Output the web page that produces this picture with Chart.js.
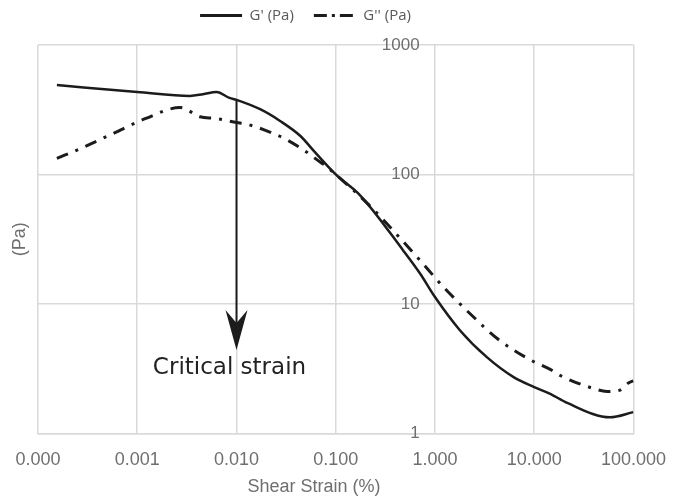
<!DOCTYPE html>
<html>
<head>
<meta charset="utf-8">
<script src="https://cdn.jsdelivr.net/npm/chart.js@4"></script>
<style>
  html, body { margin: 0; padding: 0; background: #fff; }
  #wrap { width: 674px; height: 498px; }
</style>
</head>
<body>
<div id="wrap"><canvas id="myChart"></canvas></div>
<script>
// G' (storage modulus)
const strainG1 = [0.000155, 0.001, 0.0034, 0.0046, 0.0063, 0.0085, 0.01, 0.0173, 0.0275, 0.0438, 0.062, 0.1, 0.176, 0.48, 0.71, 1, 1.79, 3.33, 6.2, 10, 14.5, 21.5, 58, 100];
const gPrime   = [490, 434, 404, 417, 434, 390, 377, 319, 259, 199, 148, 100, 69, 25.8, 17.1, 11.3, 6.24, 3.88, 2.72, 2.28, 2.02, 1.72, 1.33, 1.46];

// G'' (loss modulus)
const strainG2 = [0.000155, 0.000265, 0.00057, 0.00122, 0.0027, 0.0043, 0.0061, 0.01, 0.0139, 0.0235, 0.031, 0.049, 0.063, 0.081, 0.1, 0.222, 0.38, 0.71, 1, 1.24, 2.26, 4.27, 8.65, 14.5, 18.3, 39, 54, 72, 89, 100];
const gDouble  = [133, 158, 207, 271, 329, 279, 271, 252, 240, 207, 188, 152, 132, 115, 100, 57, 36.8, 21.6, 16, 13.3, 8.4, 5.38, 3.78, 3.12, 2.8, 2.23, 2.11, 2.15, 2.45, 2.55];

const xTicks = [0.0001, 0.001, 0.01, 0.1, 1, 10, 100];
const yTicks = [1, 10, 100, 1000];

// annotation
const criticalStrain = 0.01;
const arrowTipValue = 4.4;
const labelValue = 3.2;

const grey = '#6f6f6f';
const gridColor = '#d9d9d9';
const lineColor = '#1c1c1c';

function pts(xs, ys) { return xs.map((x, i) => ({ x: x, y: ys[i] })); }

const annotate = {
  id: 'annotate',
  afterLayout(chart) {
    // legend sits a little left of centre and close to the top edge
    const lg = chart.legend;
    lg.left -= 48; lg.right -= 48;
    lg.top -= 12; lg.bottom -= 12;
  },
  afterDatasetsDraw(chart) {
    const { ctx, scales } = chart;
    const sx = scales.x, sy = scales.y;
    const x = Math.round(sx.getPixelForValue(criticalStrain)) + 0.5;
    const startY = sy.getPixelForValue(gPrime[strainG1.indexOf(criticalStrain)]);
    const tipY = sy.getPixelForValue(arrowTipValue);
    ctx.save();
    ctx.strokeStyle = lineColor;
    ctx.fillStyle = lineColor;
    ctx.lineWidth = 2;
    ctx.beginPath();
    ctx.moveTo(x, startY);
    ctx.lineTo(x, tipY - 20);
    ctx.stroke();
    ctx.beginPath();
    ctx.moveTo(x, tipY);
    ctx.lineTo(x - 11, tipY - 40);
    ctx.lineTo(x, tipY - 27);
    ctx.lineTo(x + 11, tipY - 40);
    ctx.closePath();
    ctx.fill();
    ctx.font = '23px "DejaVu Sans"';
    ctx.textAlign = 'center';
    ctx.textBaseline = 'middle';
    ctx.fillStyle = '#222';
    ctx.fillText('Critical strain', x - 7, sy.getPixelForValue(labelValue));
    ctx.restore();
  },
  afterDraw(chart) {
    const { ctx, chartArea } = chart;
    ctx.save();
    ctx.fillStyle = grey;
    ctx.font = '18px "Liberation Sans"';
    ctx.textAlign = 'center';
    ctx.textBaseline = 'middle';
    ctx.fillText('Shear Strain (%)', 314, 487);
    ctx.translate(20, (chartArea.top + chartArea.bottom) / 2);
    ctx.rotate(-Math.PI / 2);
    ctx.fillText('(Pa)', 0, 0);
    ctx.restore();
  }
};

new Chart(document.getElementById('myChart'), {
  type: 'line',
  data: {
    datasets: [{
      label: "G' (Pa)",
      data: pts(strainG1, gPrime),
      borderColor: lineColor,
      backgroundColor: lineColor,
      borderWidth: 2.5,
      pointRadius: 0,
      pointStyle: 'line',
      cubicInterpolationMode: 'monotone',
      fill: false
    }, {
      label: "G'' (Pa)",
      data: pts(strainG2, gDouble),
      borderColor: lineColor,
      backgroundColor: lineColor,
      borderWidth: 3,
      borderDash: [12, 8, 3, 8],
      pointRadius: 0,
      pointStyle: 'line',
      cubicInterpolationMode: 'monotone',
      fill: false
    }]
  },
  options: {
    responsive: true,
    maintainAspectRatio: false,
    animation: false,
    layout: { padding: { left: 38, right: 5, top: 0, bottom: 19 } },
    plugins: {
      legend: {
        position: 'top',
        labels: {
          usePointStyle: true,
          pointStyleWidth: 42,
          padding: 20,
          color: '#595959',
          font: { family: 'Open Sans', size: 15 },
          generateLabels(chart) {
            const items = Chart.defaults.plugins.legend.labels.generateLabels(chart);
            items.forEach((it, i) => {
              it.lineDash = i === 1 ? [13, 5, 3, 5] : [];
              it.lineWidth = 3;
            });
            return items;
          }
        }
      },
      tooltip: { enabled: false }
    },
    scales: {
      x: {
        type: 'logarithmic',
        min: 0.0001,
        max: 100,
        afterBuildTicks: (s) => { s.ticks = xTicks.map(v => ({ value: v })); },
        ticks: {
          color: grey,
          padding: 8,
          maxRotation: 0,
          font: { family: 'Liberation Sans', size: 18 },
          callback: (v) => Number(v).toFixed(3)
        },
        grid: { color: gridColor, lineWidth: 1.5, drawTicks: true, tickLength: 8, tickColor: 'rgba(0,0,0,0)' },
        border: { color: gridColor, width: 1.5 }
      },
      y: {
        type: 'logarithmic',
        // labels sit just left of the 1.000 gridline, where the axis crosses
        position: { x: 0.7 },
        min: 1,
        max: 1000,
        afterBuildTicks: (s) => { s.ticks = yTicks.map(v => ({ value: v })); },
        afterFit: (s) => { s.width = 0; },
        ticks: {
          color: grey,
          font: { family: 'Liberation Sans', size: 17 },
          callback: (v) => String(v)
        },
        grid: { color: gridColor, lineWidth: 1.5, drawTicks: false },
        border: { display: false }
      }
    }
  },
  plugins: [annotate]
});
</script>
</body>
</html>
